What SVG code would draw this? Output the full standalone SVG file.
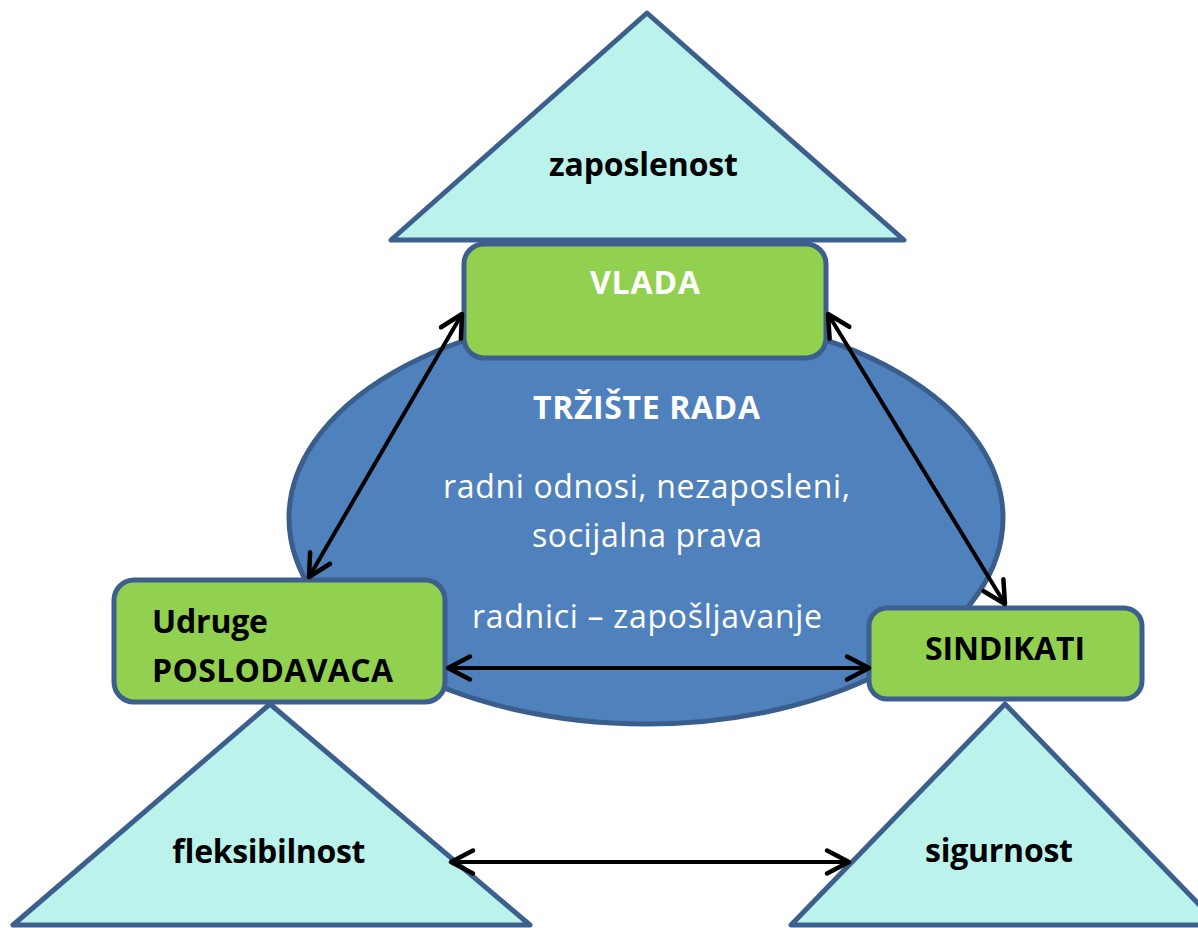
<svg xmlns="http://www.w3.org/2000/svg" width="1198" height="928" viewBox="0 0 1198 928">
<style>
.tri{fill:#BCF2EC;stroke:#3C5F8D;stroke-width:5;stroke-linejoin:round}
.box{fill:#92D050;stroke:#3C5F8D;stroke-width:5}
.ell{fill:#4F81BD;stroke:#3A5E8C;stroke-width:5}
.lbl{font-family:"Open Sans",Lato,"Liberation Sans",sans-serif;font-weight:bold;font-size:32px;fill:#000}
.wb{font-family:"Open Sans",Lato,"Liberation Sans",sans-serif;font-weight:bold;font-size:32px;fill:#fff}
.w{font-family:"Open Sans",Lato,"Liberation Sans",sans-serif;font-size:32px;fill:#fff}
.con{stroke:#000;stroke-width:4;fill:none;marker-start:url(#ah);marker-end:url(#ah)}
</style>
<defs>
<marker id="ah" markerUnits="userSpaceOnUse" markerWidth="32" markerHeight="32" viewBox="0 0 32 32" refX="27" refY="16" orient="auto-start-reverse">
<path d="M5,4.5 L27,16 L5,27.5" fill="none" stroke="#000" stroke-width="4.5" stroke-linecap="round" stroke-linejoin="round"/>
</marker>
</defs>
<rect width="1198" height="928" fill="#fff"/>
<g id="trziste">
<ellipse class="ell" cx="646" cy="518" rx="357" ry="206"/>
<text class="wb" x="533" y="419" textLength="227">TRŽIŠTE RADA</text>
<text class="w" x="443" y="498" textLength="407">radni odnosi, nezaposleni,</text>
<text class="w" x="532" y="547" textLength="230">socijalna prava</text>
<text class="w" x="472" y="628" textLength="350">radnici – zapošljavanje</text>
</g>
<g id="zaposlenost">
<polygon class="tri" points="647,13 391,240 904,240"/>
<text class="lbl" x="549" y="176" textLength="189">zaposlenost</text>
</g>
<g id="fleksibilnost">
<polygon class="tri" points="270,704 13,925 530,925"/>
<text class="lbl" x="172" y="863" textLength="193">fleksibilnost</text>
</g>
<g id="sigurnost">
<polygon class="tri" points="1005,704 791,925 1219,925"/>
<text class="lbl" x="925" y="862" textLength="148">sigurnost</text>
</g>
<g id="vlada">
<rect class="box" x="464" y="244" width="362" height="114" rx="20"/>
<text class="wb" x="590" y="294" textLength="110">VLADA</text>
</g>
<g id="udruge">
<rect class="box" x="114" y="580" width="331" height="122" rx="20"/>
<text class="lbl" x="152" y="633" textLength="116">Udruge</text>
<text class="lbl" x="152" y="682" textLength="241">POSLODAVACA</text>
</g>
<g id="sindikati">
<rect class="box" x="869" y="608" width="273" height="91" rx="18"/>
<text class="lbl" x="925" y="660" textLength="160">SINDIKATI</text>
</g>
<g id="connectors">
<line class="con" x1="462" y1="314" x2="309" y2="577"/>
<line class="con" x1="828" y1="314" x2="1005" y2="604"/>
<line class="con" x1="448" y1="668" x2="869" y2="668"/>
<line class="con" x1="451" y1="862" x2="849" y2="862"/>
</g>
</svg>
